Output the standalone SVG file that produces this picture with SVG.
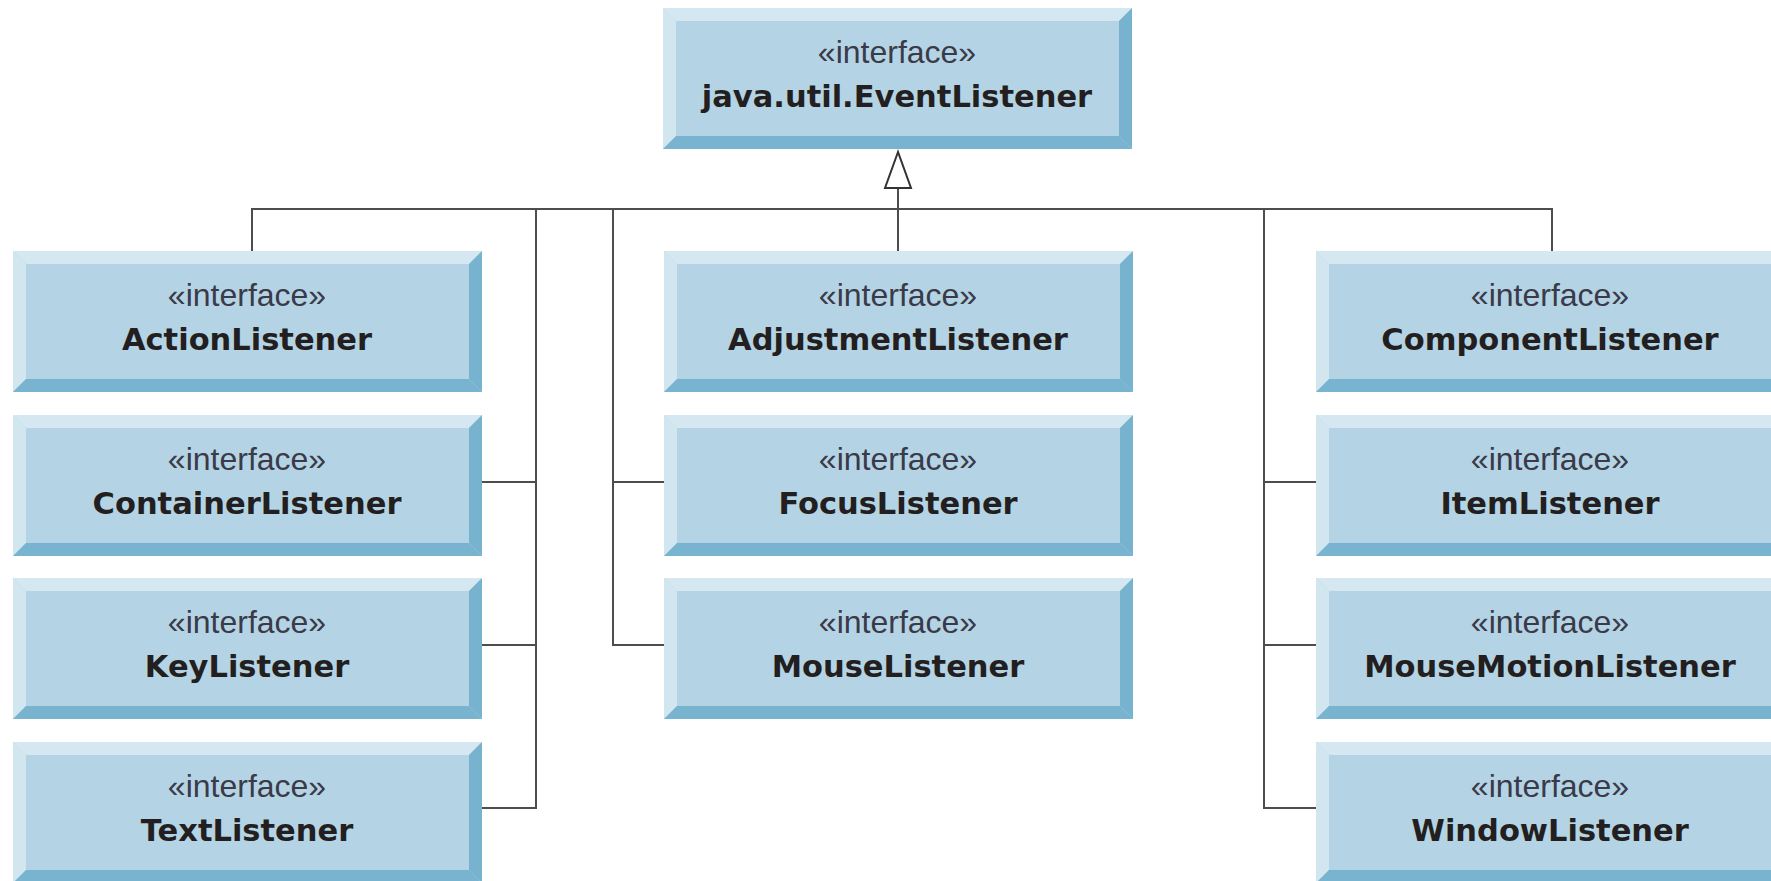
<svg xmlns="http://www.w3.org/2000/svg" xmlns:xlink="http://www.w3.org/1999/xlink" width="1771" height="881" viewBox="0 0 1771 881">
  <style>
    .stereo { font-family: "Liberation Sans", Arial, sans-serif; font-size: 32px; fill: #3a3a48; text-anchor: middle; }
    .name { font-family: "DejaVu Sans", "Liberation Sans", sans-serif; font-weight: bold; font-size: 30.5px; fill: #231f20; text-anchor: middle; }
    .wire { fill: none; stroke: #4d4d4d; stroke-width: 2; }
  </style>
  <defs>
    <!-- bevelled interface box, 469 x 141 -->
    <g id="box">
      <rect x="0" y="0" width="469" height="141" fill="#b4d4e5"/>
      <polygon points="0,0 469,0 456,13 13,13" fill="#d5e8f1"/>
      <polygon points="0,0 13,13 13,128 0,141" fill="#d2e6f0"/>
      <polygon points="469,0 469,141 456,128 456,13" fill="#77b3cf"/>
      <polygon points="0,141 469,141 456,128 13,128" fill="#78b4d0"/>
    </g>
  </defs>

  <rect width="1771" height="881" fill="#ffffff"/>

  <!-- connectors -->
  <g id="connectors">
    <polyline class="wire" points="252,251 252,209 1552,209 1552,251"/>
    <line class="wire" x1="898" y1="188" x2="898" y2="251"/>
    <polygon points="898,152 885,188 911,188" fill="#ffffff" stroke="#333333" stroke-width="2" stroke-linejoin="miter"/>
    <!-- left bus -->
    <polyline class="wire" points="536,209 536,808 482,808"/>
    <line class="wire" x1="482" y1="482" x2="536" y2="482"/>
    <line class="wire" x1="482" y1="645" x2="536" y2="645"/>
    <!-- middle bus -->
    <polyline class="wire" points="613,209 613,645 664,645"/>
    <line class="wire" x1="613" y1="482" x2="664" y2="482"/>
    <!-- right bus -->
    <polyline class="wire" points="1264,209 1264,808 1316,808"/>
    <line class="wire" x1="1264" y1="482" x2="1316" y2="482"/>
    <line class="wire" x1="1264" y1="645" x2="1316" y2="645"/>
  </g>

  <g id="EventListener">
    <use xlink:href="#box" x="663" y="8"/>
    <text class="stereo" x="897" y="63">«interface»</text>
    <text class="name" x="897" y="107">java.util.EventListener</text>
  </g>

  <g id="ActionListener">
    <use xlink:href="#box" x="13" y="251"/>
    <text class="stereo" x="247" y="306">«interface»</text>
    <text class="name" x="247" y="350">ActionListener</text>
  </g>
  <g id="ContainerListener">
    <use xlink:href="#box" x="13" y="415"/>
    <text class="stereo" x="247" y="470">«interface»</text>
    <text class="name" x="247" y="514">ContainerListener</text>
  </g>
  <g id="KeyListener">
    <use xlink:href="#box" x="13" y="578"/>
    <text class="stereo" x="247" y="633">«interface»</text>
    <text class="name" x="247" y="677">KeyListener</text>
  </g>
  <g id="TextListener">
    <use xlink:href="#box" x="13" y="742"/>
    <text class="stereo" x="247" y="797">«interface»</text>
    <text class="name" x="247" y="841">TextListener</text>
  </g>

  <g id="AdjustmentListener">
    <use xlink:href="#box" x="664" y="251"/>
    <text class="stereo" x="898" y="306">«interface»</text>
    <text class="name" x="898" y="350">AdjustmentListener</text>
  </g>
  <g id="FocusListener">
    <use xlink:href="#box" x="664" y="415"/>
    <text class="stereo" x="898" y="470">«interface»</text>
    <text class="name" x="898" y="514">FocusListener</text>
  </g>
  <g id="MouseListener">
    <use xlink:href="#box" x="664" y="578"/>
    <text class="stereo" x="898" y="633">«interface»</text>
    <text class="name" x="898" y="677">MouseListener</text>
  </g>

  <g id="ComponentListener">
    <use xlink:href="#box" x="1316" y="251"/>
    <text class="stereo" x="1550" y="306">«interface»</text>
    <text class="name" x="1550" y="350">ComponentListener</text>
  </g>
  <g id="ItemListener">
    <use xlink:href="#box" x="1316" y="415"/>
    <text class="stereo" x="1550" y="470">«interface»</text>
    <text class="name" x="1550" y="514">ItemListener</text>
  </g>
  <g id="MouseMotionListener">
    <use xlink:href="#box" x="1316" y="578"/>
    <text class="stereo" x="1550" y="633">«interface»</text>
    <text class="name" x="1550" y="677">MouseMotionListener</text>
  </g>
  <g id="WindowListener">
    <use xlink:href="#box" x="1316" y="742"/>
    <text class="stereo" x="1550" y="797">«interface»</text>
    <text class="name" x="1550" y="841">WindowListener</text>
  </g>
</svg>
